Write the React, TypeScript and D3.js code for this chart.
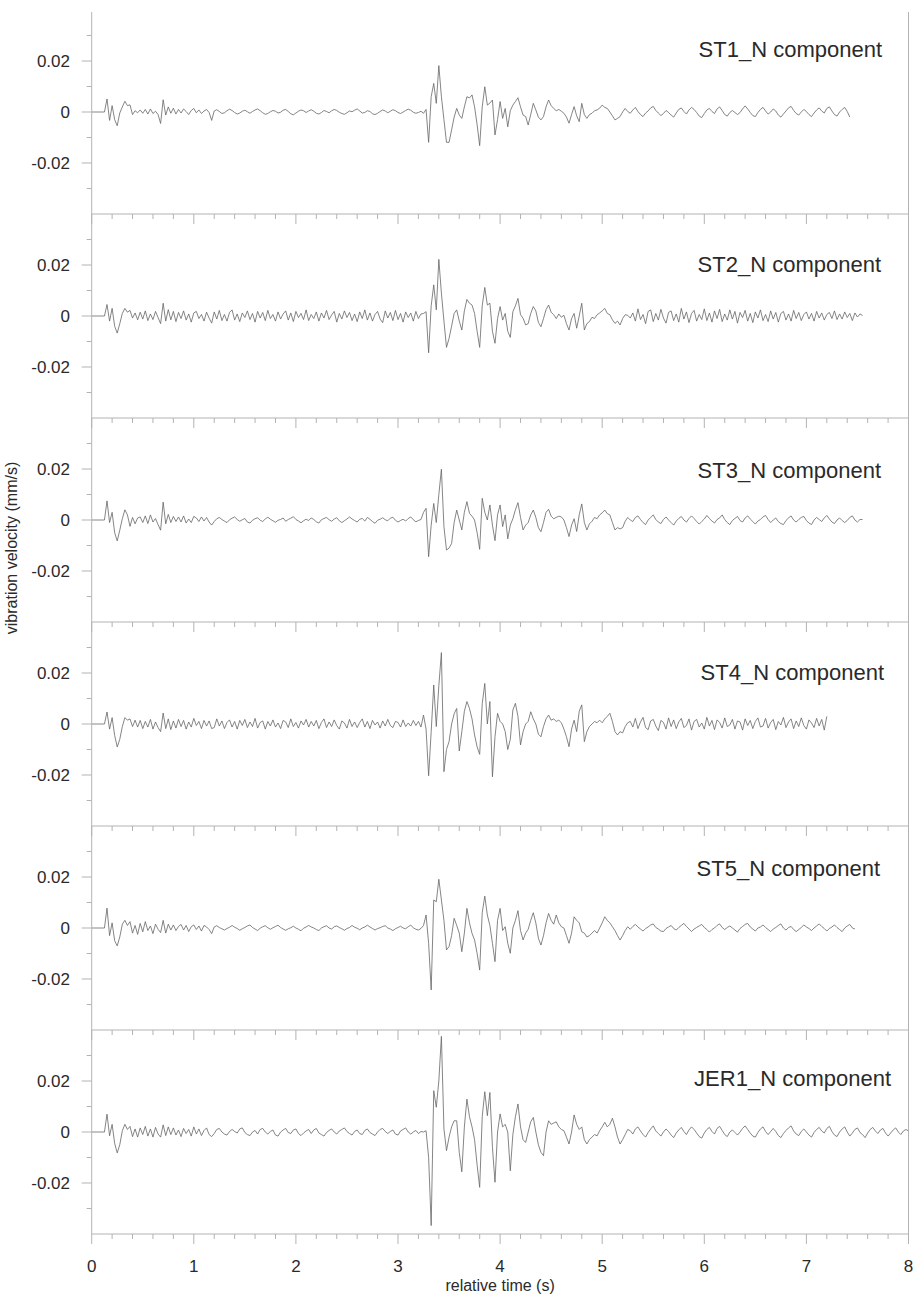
import React from 'react';
import * as d3 from 'd3';

// ---- data (velocity in units of 1e-4 mm/s, sampled every 0.025 s from t = 0) ----
const SAMPLE_INTERVAL = 0.025;
const UNIT = 1e-4;

const ST1 = [
  0, 0, 0, 0, 0, 0,
  51, -33, 25, -30, -54, -4, 20, 42, 25, 28, -10, 5, -3,
  8, -5, 10, -8, 12, -6, 3, -10,
  -45, 48, -12, 20, -5, 15,
  -8, 10, -4, 12, 2, -10, 6, 14, -3, 8, -6, 4, 10, -2,
  -33,
  4, 9, 2, -6, -3, 5, 11, 6, -2, -8,
  -4, 3, 7, 1, -5, 2, 8, 12, 5, -3,
  -9, -6, 1, 6, 3, -4, -1, 7, 10, 2,
  -7, -11, -4, 3, 8, 5, -2, 4, 9, 3,
  -5, -8, -2, 6, 2, -3, 5, 10, 6, -1,
  -6, -9, -3, 4, 1, 7, 12, 4, -4, -2,
  5, 2, -7, -10, -5, 2, 8, 4, -3, 3,
  9, 5, -2, -6, 0, 6, 11, 7, -1, -5,
  -2, 3,
  -5, 10, -119, 60, 112, 34, 182, 60, -30, -119,
  -119, -70, -20, 14, -12, -25, 20, 60, 55, 67,
  20, -50, -132, 20, 99, 27, 35, 47, -90, -30,
  41, -25, 14, -58, 5, 27, 41, 56, 20, -12,
  -18, -51, -10, 34, 8, -20, -31, -18, 20, 47,
  25, 14, 5, 10, 3, -5, -20, -44, -10, 21,
  -15, -38, 34, -10, -25, -10, -5, 5, 8, 15,
  27, 18, 14, 0, -15, -31, -25, -18, 0, 14,
  2, -5,
  8, 18, 2, -10, -18, -4, 4, 16, 22, 6,
  -4, -14, -6, 6, -2, -12, -20, -4, 10, 16,
  2, -8, 8, 18, 10, -2, -16, -22, -6, 8,
  14, 2, -6, 12, 20, 6, -10, -16, -2, 6,
  -2, -10, -2, 12, 24, 12, -2, -14, -18, -2,
  10, 18, 4, -8, 0, 12, 4, -12, -20, -8,
  4, 16, 22, 6, -6, -12, 0, 10, 2, -10,
  -18, -4, 8, 16, 4, -4, 14, 20, 4, -10,
  -16, 0, 10, 18, 2, -20,
];

const ST2 = [
  0, 0, 0, 0, 0, 0,
  45, -20, 30, -40, -67, -30, 10, 30, 15, 22, -8, 12, -15,
  15, -12, 20, -18, 8, -14, 18, -6,
  -30, 50, -20, 25, -15, 18,
  -22, 14, -10, 20, -16, 8, -24, 12, 18, -10, 6, -20, 15, -8,
  -28,
  16, -12, 22, -18, 6, -20, 14, 24, -16, 8,
  -22, 12, -6, 20, -14, 10, -24, 18, -8, 14,
  -18, 22, -10, 6, -20, 16, -12, 8, 20, -16,
  12, -22, 18, -6, 10, -14, 24, -18, 6, -10,
  16, -20, 12, -8, 22, -14, 4, 18, -24, 10,
  -12, 20, -6, 14, -18, 8, -22, 16, -10, 24,
  -16, 12, -20, 6, 18, -12, -26, 20, -8, 14,
  -18, 22, -14, 10, -24, 16, -6, 12, -20, 18,
  -10, 8,
  10, 17, -144, 40, 122, 24, 222, 90, -20, -123,
  -88, -40, 10, 24, -20, -55, 20, 65, 50, 43,
  10, -60, -123, 40, 112, 43, 50, -60, -107, -10,
  37, -16, 10, -60, -84, 17, 40, 69, 5, -9,
  -35, -30, 10, 37, 20, -25, -42, -10, 25, 43,
  15, 5, -10, 8, -5, 3, -30, -55, -10, 10,
  -48, 0, 50, -55, -30, -22, -5, -10, 5, 12,
  20, 30, 10, 5, -15, -29, -20, -35, -10, 5,
  3, -8,
  12, -20, 28, -14, 6, -30, 18, 24, -22, 10,
  -16, 26, -8, -28, 14, 20, -18, 8, -24, 30,
  -12, 16, -26, 10, 22, -20, 6, -14, 28, -18,
  12, -24, 20, -10, 26, -22, 8, -16, 24, -12,
  18, -28, 14, -6, 22, -20, 10, -26, 16, -8,
  24, -18, 6, -22, 20, -12, 14, -24, 10, 18,
  -16, 8, -20, 22, -10, 14, -18, 6, 16, -12,
  10, -20, 18, -8, 12, -16, 6, 14, -10, 20,
  -14, 8, -12, 16, -6, 10, -18, 12, -4, 8,
  2,
];

const ST3 = [
  0, 0, 0, 0, 0, 0,
  75, -10, 30, -50, -82, -40, 5, 40, 20, -25, 10, -15, 8,
  12, -10, 16, -14, 20, -8, 6, -18,
  -40, 70, -15, 22, -10, 14,
  -6, 12, -8, 16, -12, 4, -10, 14, 8, -6, 12, -4, 10, -8,
  -20,
  -6, 5, 10, 2, -4, -10, 1, 7, 12, 2,
  -5, 1, 6, -8, -12, -1, 5, 9, -1, -6,
  4, 11, 3, -3, -9, -1, 2, 8, -5, 2,
  7, 13, 2, -4, -11, -3, 3, -2, 8, 2,
  -7, -12, 1, 6, 10, 1, -5, 4, 9, -3,
  -10, -3, 4, 12, 4, -2, -8, 3, 6, -4,
  10, 3, -6, -13, -1, 3, 9, 1, -3, 7,
  11, -1, -8, -2, 3, -4, 6, 12, 1, -7,
  -2, 2,
  30, 46, -144, -20, 65, -10, 100, 199, -26, -118,
  -110, -92, -10, 39, 0, -39, 30, 72, 26, 15,
  0, -50, -115, 85, 30, 0, 59, -20, -81, 20,
  59, -26, 20, -74, -20, 5, 40, 68, 10, -39,
  -20, -10, 20, 39, 10, -30, -46, -10, 30, 42,
  15, 5, 10, 15, 12, 0, -30, -65, -20, 5,
  -45, 20, 63, -10, -39, -15, -5, 10, 5, 20,
  28, 39, 25, 20, -10, -39, -30, -35, -30, -5,
  10, 0,
  -6, 10, 16, 2, -10, -18, 0, 10, 20, 2,
  -8, -14, 2, 12, 0, -10, -20, -4, 6, 14,
  0, -8, 6, 16, 6, -6, -16, -6, 4, 18,
  6, -4, -12, 2, 8, 20, 2, -10, -18, -2,
  6, 14, -2, -8, 8, 16, 4, -6, -16, -4,
  2, 12, 18, 2, -10, 0, 8, -6, -14, -18,
  -2, 8, 16, 0, -8, 2, 10, 14, -2, -12,
  -18, 0, 10, 2, -6, 8, 18, 4, -8, -14,
  0, 8, -2, -10, -2, 10, 16, 0, -8, 2,
  2,
];

const ST4 = [
  0, 0, 0, 0, 0, 0,
  47, -20, 25, -45, -90, -60, -10, 25, 15, 20, -10, 15, -12,
  14, -18, 10, -12, 18, -20, 8, -14,
  -30, 43, -18, 20, -22, 12,
  -16, 18, -10, 14, -20, 8, -12, 22, -6, 10, -18, 14, -8, 12,
  -18,
  -14, 20, -8, 12, -18, 6, 16, -12, 10, -20,
  14, -6, 18, -14, 8, -10, 22, -16, 6, 12,
  -20, 10, -8, 16, -12, 4, -18, 14, 8, -14,
  20, -10, 6, -16, 12, -4, 18, -12, 10, -8,
  14, -18, 6, 20, -14, 8, -10, 16, -6, -20,
  12, 4, -16, 18, -10, 8, -14, 6, 20, -12,
  10, -18, 14, -4, 8, -16, 12, -8, 18, -6,
  -14, 10, 6, -12, 16, -10, 4, -8, 14, -6,
  10, -12,
  35, -20, -203, -30, 153, -10, 150, 280, -187, -100,
  -69, 0, 40, 61, -106, -30, 50, 88, 61, 20,
  -43, -90, -119, 80, 159, 0, 88, -207, -50, 42,
  10, 0, -30, -100, -60, 55, 81, 30, -82, -30,
  0, 10, 48, 20, 0, -40, -50, -10, 20, 35,
  15, 20, 10, 15, 5, -20, -50, -89, -20, 15,
  -30, 50, 75, -69, -30, -10, 0, 10, 5, 15,
  5, 20, 30, 42, 10, -30, -43, -30, -35, -10,
  5, 10,
  -12, 22, -18, 8, 26, -14, -22, 12, 18, -8,
  -26, 14, 6, -20, 24, -10, 16, -18, 8, 22,
  -14, -6, 20, -24, 10, 18, -12, 4, -20, 26,
  -8, 14, -22, 16, 6, -16, 24, -10, -4, 18,
  -20, 12, 8, -24, 20, -6, 14, -18, 10, 24,
  -12, -8, 22, -16, 6, 18, -22, 10, -4, 26,
  -14, 8, 20, -18, 12, -10, 24, -6, -20, 16,
  4, -14, 22, -8, 18, -24, 30,
];

const ST5 = [
  0, 0, 0, 0, 0, 0,
  78, -30, 20, -50, -70, -35, 15, 30, 10, 25, -20, 10, -25,
  18, -15, 25, -10, 8, -22, 15, -5,
  -18, 30, -20, 15, -8, 12,
  -10, 6, 14, -8, 10, -14, 5, 12, -6, 8, -12, 10, 4, -6,
  -22,
  4, 9, 2, -3, -8, -2, 3, 10, 3, -2,
  -9, -3, 2, 8, 12, 2, -4, -10, -1, 5,
  9, 1, -5, 1, 6, 11, 2, -4, -9, -3,
  1, 7, 0, -5, -11, -1, 4, 10, 4, 0,
  -6, -10, 0, 5, 9, 0, -4, 5, 8, 2,
  -3, -9, -2, 2, 10, 3, -1, -7, 0, 4,
  11, 4, -2, -8, -2, 1, 6, 9, 0, -4,
  -10, -3, 2, 7, 0, -3, 5, 11, 1, -5,
  -8, -2,
  10, 51, -60, -243, 110, 103, 191, 110, 30, -86,
  -73, -30, 38, 10, -20, -93, -20, 77, 20, -21,
  -47, -100, -165, 60, 125, 51, 10, -60, -132, 30,
  77, -10, 5, -60, -99, 0, 30, 68, -10, -47,
  -20, -5, 30, 60, 20, -40, -67, -30, 20, 57,
  30, 15, 51, 20, 5, 0, -30, -60, -20, 44,
  30, 20, -15, -20, -35, -30, -20, -10, -20, 0,
  20, 44, 30, 20, 5, -10, -30, -47, -30, -10,
  5, -5,
  6, 14, 4, -4, -12, -2, 4, 12, 16, 2,
  -4, -12, -14, -2, 4, 10, -2, -8, 2, 10,
  18, 6, -4, -14, -4, 2, 8, 14, 2, -6,
  -16, -6, 0, 10, 16, 2, -6, 2, 8, 0,
  -8, -16, -2, 6, 14, 18, 4, -4, -12, 0,
  4, 12, 2, -6, -14, -4, 2, 10, 16, 0,
  -8, 2, 6, -6, -14, -6, 2, 12, 4, -2,
  -10, 0, 8, 16, 6, -2, -12, -2, 4, 12,
  2, -6, -14, 0, 8, 14, 0, -4,
];

const JER1 = [
  0, 0, 0, 0, 0, 0,
  70, -15, 30, -45, -82, -50, 5, 30, 10, 22, -18, 12, -20,
  16, -10, 22, -16, 12, -20, 18, -8,
  -20, 28, -14, 20, -10, 16,
  -12, 8, -18, 14, -6, 10, -16, 20, -8, 12, -14, 6, 16, -10,
  -18,
  -6, 10, 14, 0, -8, -12, 2, 10, 2, -4,
  12, 16, -2, -10, -14, 0, 6, -8, 10, 14,
  0, -8, 2, 8, -12, -16, 0, 8, 14, -2,
  -6, 8, 12, -6, -14, -4, 4, 10, -6, 8,
  14, -4, -10, -16, -2, 6, 12, 0, -8, 4,
  10, 16, 2, -6, -12, 2, 8, -6, -10, 6,
  12, -2, -8, -14, 0, 10, 14, 2, -6, 2,
  8, -8, -12, 4, 10, 16, 0, -8, 0, 6,
  -6, 2,
  0, 5, -100, -367, 162, 97, 200, 375, 12, -73,
  -20, 20, 44, 44, -80, -156, 20, 129, 60, 20,
  -30, -130, -217, 60, 158, 64, 155, -60, -197, 0,
  71, 20, 30, 0, -152, -10, 60, 110, 20, -30,
  -41, 0, 40, 57, 0, -50, -80, -93, 0, 44,
  30, 35, 40, 20, 10, 5, -20, -47, 0, 67,
  30, 10, 20, -30, -47, -30, -20, -10, -15, 5,
  20, 38, 20, 30, 54, 20, -20, -47, -30, -10,
  10, 5,
  -8, 12, 20, 4, -10, -20, -2, 12, 24, 4,
  -6, -16, 0, 12, 2, -12, -22, -4, 8, 18,
  2, -10, 8, 20, 10, -4, -18, -24, -4, 10,
  18, 2, -8, 14, 22, 6, -10, -18, 0, 8,
  -2, -12, 0, 14, 24, 10, -4, -16, -20, -2,
  12, 20, 2, -10, 2, 14, 2, -14, -22, -6,
  6, 16, 24, 4, -8, -14, 2, 12, 0, -12,
  -20, -2, 10, 18, 4, -4, 14, 22, 2, -12,
  -18, 0, 12, 20, 0, -16, -4, 10, 16, -2,
  -10, -22, -4, 10, 18, 4, -6, 8, 14, -4,
  -16, -4, 8, 16, 0, -10, 4, 10, 4,
];

const TRACES = [ST1, ST2, ST3, ST4, ST5, JER1];
const PANEL_LABELS = [
  'ST1_N component',
  'ST2_N component',
  'ST3_N component',
  'ST4_N component',
  'ST5_N component',
  'JER1_N component',
];
const X_TICKS = [0, 1, 2, 3, 4, 5, 6, 7, 8];
const Y_TICKS = [-0.02, 0, 0.02];
const Y_MINOR_TICKS = [-0.03, -0.01, 0.01, 0.03];
const X_TITLE = 'relative time (s)';
const Y_TITLE = 'vibration velocity (mm/s)';

// ---- layout ----
const W = 915;
const H = 1296;
const LEFT = 91.7;
const RIGHT = 908.5;
const TOP = 10;
const PANEL_H = 204;
const LABEL_BASELINES = [57, 272, 478, 680, 876, 1086];
const LABEL_RIGHTS = [882, 881, 881, 884, 880, 891];
const FONT = "'Liberation Sans', Arial, Helvetica, sans-serif";
const AXIS = '#b3b3b3';
const TEXT = '#2a2a2a';
const TRACE = '#666666';

export default function App() {
  const x = d3.scaleLinear().domain([0, 8]).range([LEFT, RIGHT]);
  const xMinor = x.ticks(40);
  const bottom = TOP + PANEL_H * TRACES.length;

  return (
    <svg
      width={W}
      height={H}
      viewBox={`0 0 ${W} ${H}`}
      style={{ position: 'absolute', left: 0, top: 0, background: '#fff' }}
      fontFamily={FONT}
    >
      <rect x={0} y={0} width={W} height={H} fill="#fff" />
      {TRACES.map((trace, p) => {
        const y0 = TOP + p * PANEL_H;
        const y = d3.scaleLinear().domain([-0.04, 0.04]).range([y0 + PANEL_H, y0]);
        const line = d3
          .line<number>()
          .x((_, i) => x(i * SAMPLE_INTERVAL))
          .y((v) => y(v * UNIT));
        return (
          <g key={p}>
            <path d={line(trace) || ''} fill="none" stroke={TRACE} strokeWidth={0.8} strokeLinejoin="round" />
            <line x1={LEFT} x2={RIGHT} y1={y0 + PANEL_H} y2={y0 + PANEL_H} stroke={AXIS} strokeWidth={1} />
            {xMinor.map((t) => {
              const major = Math.abs(t - Math.round(t)) < 1e-6;
              return (
                <line
                  key={t}
                  x1={x(t)}
                  x2={x(t)}
                  y1={y0 + PANEL_H}
                  y2={y0 + PANEL_H + (major ? 10 : 5)}
                  stroke={AXIS}
                  strokeWidth={1}
                />
              );
            })}
            {Y_TICKS.map((v) => (
              <g key={v}>
                <line x1={LEFT - 10} x2={LEFT} y1={y(v)} y2={y(v)} stroke={AXIS} strokeWidth={1} />
                <text x={70} y={y(v) + 6} textAnchor="end" fontSize={17} fill={TEXT}>
                  {v === 0 ? '0' : v.toFixed(2)}
                </text>
              </g>
            ))}
            {Y_MINOR_TICKS.map((v) => (
              <line key={v} x1={LEFT - 5} x2={LEFT} y1={y(v)} y2={y(v)} stroke={AXIS} strokeWidth={1} />
            ))}
            <text x={LABEL_RIGHTS[p]} y={LABEL_BASELINES[p]} textAnchor="end" fontSize={22} fill={TEXT}>
              {PANEL_LABELS[p]}
            </text>
          </g>
        );
      })}
      <line x1={LEFT} x2={LEFT} y1={TOP + 2} y2={bottom} stroke={AXIS} strokeWidth={1} />
      <line x1={RIGHT} x2={RIGHT} y1={TOP + 2} y2={bottom} stroke={AXIS} strokeWidth={1} />
      {X_TICKS.map((t) => (
        <text key={t} x={x(t)} y={1272} textAnchor="middle" fontSize={17} fill={TEXT}>
          {t}
        </text>
      ))}
      <text x={(LEFT + RIGHT) / 2} y={1291} textAnchor="middle" fontSize={16} fill={TEXT}>
        {X_TITLE}
      </text>
      <text
        transform={`translate(17, 548) rotate(-90)`}
        textAnchor="middle"
        fontSize={16}
        fill={TEXT}
      >
        {Y_TITLE}
      </text>
    </svg>
  );
}
